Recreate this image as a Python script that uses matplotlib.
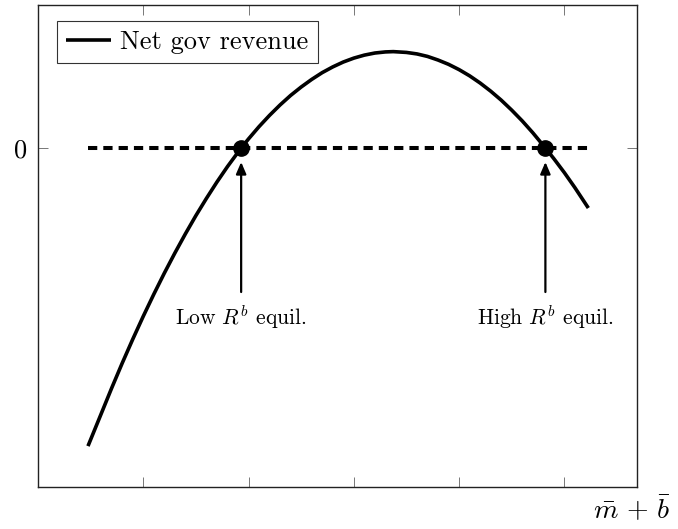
import matplotlib
matplotlib.use("Agg")
import matplotlib.pyplot as plt

plt.rcParams['font.family'] = ['cmr10', 'DejaVu Serif']
plt.rcParams['mathtext.fontset'] = 'cm'
plt.rcParams['axes.unicode_minus'] = False
plt.rcParams['axes.formatter.use_mathtext'] = True

# net government revenue as a function of m + b
money_debt = [0.475, 0.6, 0.7, 0.8, 0.9, 1.0, 1.1, 1.2, 1.3, 1.4, 1.5, 1.6, 1.7, 1.8, 1.93,
              2.0, 2.1, 2.2, 2.3, 2.4, 2.5, 2.6, 2.7, 2.8, 2.9, 3.0, 3.1, 3.2, 3.3, 3.375,
              3.5, 3.6, 3.7, 3.8, 3.9, 4.0, 4.1, 4.2, 4.3, 4.4, 4.5, 4.6, 4.7, 4.82,
              4.9, 5.0, 5.1, 5.228]
net_revenue = [-2.981, -2.659, -2.401, -2.152, -1.913, -1.683, -1.463, -1.252, -1.051, -0.859,
               -0.676, -0.504, -0.340, -0.186, 0.0,
               0.091, 0.214, 0.327, 0.431, 0.526, 0.610, 0.686, 0.754, 0.811, 0.860,
               0.899, 0.929, 0.950, 0.961, 0.964,
               0.956, 0.941, 0.916, 0.880, 0.837, 0.784, 0.722, 0.650, 0.569, 0.479,
               0.379, 0.271, 0.153, 0.0,
               -0.106, -0.246, -0.396, -0.600]

# the two equilibria (zeros of net revenue)
equil_x = [1.93, 4.82]
equil_y = [0.0, 0.0]
equil_labels = ['Low $R^b$ equil.', 'High $R^b$ equil.']

# dashed zero line
zero_line_x = [0.475, 5.228]
zero_line_y = [0.0, 0.0]

x_ticks = [0, 1, 2, 3, 4, 5]
y_ticks = [0]
y_tick_labels = ['0']

fig = plt.figure(figsize=(6.78, 5.29), dpi=100)
ax = fig.add_axes([0.056, 0.0794, 0.8835, 0.9111])

ax.plot(money_debt, net_revenue, color='black', linewidth=2.6, label='Net gov revenue',
        solid_capstyle='butt', solid_joinstyle='round', zorder=3)
ax.plot(zero_line_x, zero_line_y, color='black', linewidth=2.9, dashes=(2.3, 1.5), zorder=2)
ax.plot(equil_x, equil_y, 'o', color='black', markersize=11, zorder=4)

# arrows pointing at each equilibrium with a label underneath
for ex, lab in zip(equil_x, equil_labels):
    ax.annotate('', xy=(ex, -0.14), xytext=(ex, -1.44),
                arrowprops=dict(arrowstyle='-|>,head_length=0.7,head_width=0.3',
                                color='black', linewidth=1.6, shrinkA=0, shrinkB=0))
    ax.text(ex, -1.69, lab, ha='center', va='center', fontsize=15.5)

ax.set_xlim(0, 5.69)
ax.set_ylim(-3.39, 1.43)

ax.set_xticks(x_ticks)
ax.set_xticklabels([])
ax.set_yticks(y_ticks)
ax.set_yticklabels(y_tick_labels, fontsize=19)
ax.tick_params(axis='x', direction='in', length=7, width=0.7, color='#777777',
               top=True, bottom=True)
ax.tick_params(axis='y', direction='in', length=7, width=0.7, color='#777777',
               left=True, right=True, pad=8)

for sp in ax.spines.values():
    sp.set_linewidth(1.0)
    sp.set_color('#222222')

ax.text(0.992, -0.048, r'$\bar{m}\,+\,\bar{b}$', ha='center', va='center',
        fontsize=20, transform=ax.transAxes)

leg = ax.legend(loc='upper left', bbox_to_anchor=(0.0317, 0.9668), borderaxespad=0,
                fontsize=19, fancybox=False, frameon=True, handlelength=1.7,
                handletextpad=0.35, borderpad=0.35)
leg.get_frame().set_edgecolor('black')
leg.get_frame().set_linewidth(0.8)

fig.savefig('out.png', dpi=100)
